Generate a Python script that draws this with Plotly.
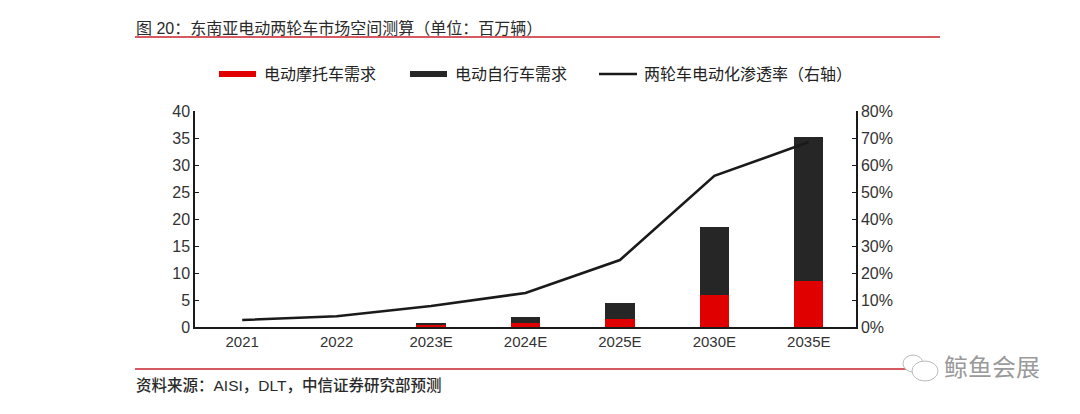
import plotly.graph_objects as go

categories = ["2021", "2022", "2023E", "2024E", "2025E", "2030E", "2035E"]
motorcycle = [0.0, 0.0, 0.3, 0.7, 1.5, 5.9, 8.6]
bicycle = [0.0, 0.0, 0.5, 1.15, 2.9, 12.7, 26.5]
penetration = [2.6, 4.0, 7.8, 12.6, 24.8, 56.0, 68.5]
left_ticks = [0, 5, 10, 15, 20, 25, 30, 35, 40]
right_ticks = [0, 10, 20, 30, 40, 50, 60, 70, 80]

title_text = "图 20：东南亚电动两轮车市场空间测算（单位：百万辆）"
source_text = "资料来源：AISI，DLT，中信证券研究部预测"
legend_names = ["电动摩托车需求", "电动自行车需求", "两轮车电动化渗透率（右轴）"]

FONT = "Liberation Sans, Noto Sans CJK SC, Arial"
RED = "#E00000"
DARK = "#262626"

# page offset (body margin) and target plot box in screenshot pixels
OFF = 8
W, H = 1080, 414
L, R, T, B = 195, 856, 111, 327
ml, mr, mt, mb = L - OFF, W - (R - OFF), T - OFF, H - (B - OFF)
plot_w = W - ml - mr
plot_h = H - mt - mb


def px(pix):
    return (pix - OFF - ml) / plot_w


def py(pix):
    return (H - mb - (pix - OFF)) / plot_h


fig = go.Figure()
fig.add_trace(go.Bar(x=categories, y=motorcycle, name=legend_names[0],
                     marker=dict(color=RED, line=dict(width=0)), width=0.31))
fig.add_trace(go.Bar(x=categories, y=bicycle, name=legend_names[1],
                     marker=dict(color=DARK, line=dict(width=0)), width=0.31))
fig.add_trace(go.Scatter(x=categories, y=penetration, name=legend_names[2],
                         mode="lines", line=dict(color="#1a1a1a", width=2.6), yaxis="y2"))

fig.update_layout(
    width=W, height=H,
    margin=dict(l=ml, r=mr, t=mt, b=mb),
    paper_bgcolor="white", plot_bgcolor="white",
    barmode="stack",
    font=dict(family=FONT, size=14, color="#333333"),
    showlegend=False,
    xaxis=dict(type="category", showline=True, linecolor="#1a1a1a", linewidth=1.5,
               ticks="", showgrid=False, tickfont=dict(size=15, color="#333333")),
    yaxis=dict(range=[0, 40], tickvals=left_ticks, showline=True, linecolor="#1a1a1a",
               linewidth=1.5, ticks="inside", ticklen=4, tickcolor="#1a1a1a",
               showgrid=False, zeroline=False, tickfont=dict(size=16, color="#333333")),
    yaxis2=dict(range=[0, 80], tickvals=right_ticks, ticktext=[f"{v}%" for v in right_ticks],
                overlaying="y", side="right", showline=True, linecolor="#1a1a1a",
                linewidth=1.5, ticks="inside", ticklen=4, tickcolor="#1a1a1a",
                showgrid=False, zeroline=False, tickfont=dict(size=16, color="#333333")),
)

# Title and source
fig.add_annotation(text=title_text, xref="paper", yref="paper", x=px(134), y=py(28),
                   xanchor="left", yanchor="middle", showarrow=False,
                   font=dict(size=16, color="#2a2a2a"))
fig.add_annotation(text=source_text, xref="paper", yref="paper", x=px(134), y=py(385),
                   xanchor="left", yanchor="middle", showarrow=False,
                   font=dict(size=15.5, color="#2a2a2a", weight=500))
fig.add_annotation(text="鲸鱼会展", xref="paper", yref="paper", x=px(942), y=py(367),
                   xanchor="left", yanchor="middle", showarrow=False,
                   font=dict(size=24, color="#9a9a9a"))

# red rules
fig.add_shape(type="line", xref="paper", yref="paper", x0=px(135), x1=px(940),
              y0=py(37), y1=py(37), line=dict(color="#C8232C", width=1.5))
fig.add_shape(type="line", xref="paper", yref="paper", x0=px(135), x1=px(920),
              y0=py(369), y1=py(369), line=dict(color="#C8232C", width=1.5))
# watermark bubbles
fig.add_shape(type="circle", xref="paper", yref="paper", x0=px(903), x1=px(923),
              y0=py(372), y1=py(355), line=dict(color="#bbbbbb", width=1), fillcolor="white")
fig.add_shape(type="circle", xref="paper", yref="paper", x0=px(912), x1=px(938),
              y0=py(381), y1=py(361), line=dict(color="#bbbbbb", width=1), fillcolor="white")

# manual legend
LY = 74
swatches = [(219, 256, RED, "rect"), (410, 447, DARK, "rect"), (599, 637, "#1a1a1a", "line")]
text_x = [262, 453, 642]
for (x0, x1, col, kind), tx, name in zip(swatches, text_x, legend_names):
    if kind == "rect":
        fig.add_shape(type="rect", xref="paper", yref="paper", x0=px(x0), x1=px(x1),
                      y0=py(LY + 3), y1=py(LY - 3), line=dict(width=0), fillcolor=col)
    else:
        fig.add_shape(type="line", xref="paper", yref="paper", x0=px(x0), x1=px(x1),
                      y0=py(LY), y1=py(LY), line=dict(color=col, width=2.6))
    fig.add_annotation(text=name, xref="paper", yref="paper", x=px(tx), y=py(LY),
                       xanchor="left", yanchor="middle", showarrow=False,
                       font=dict(size=16, color="#222222"))

fig.write_html("out.html")
